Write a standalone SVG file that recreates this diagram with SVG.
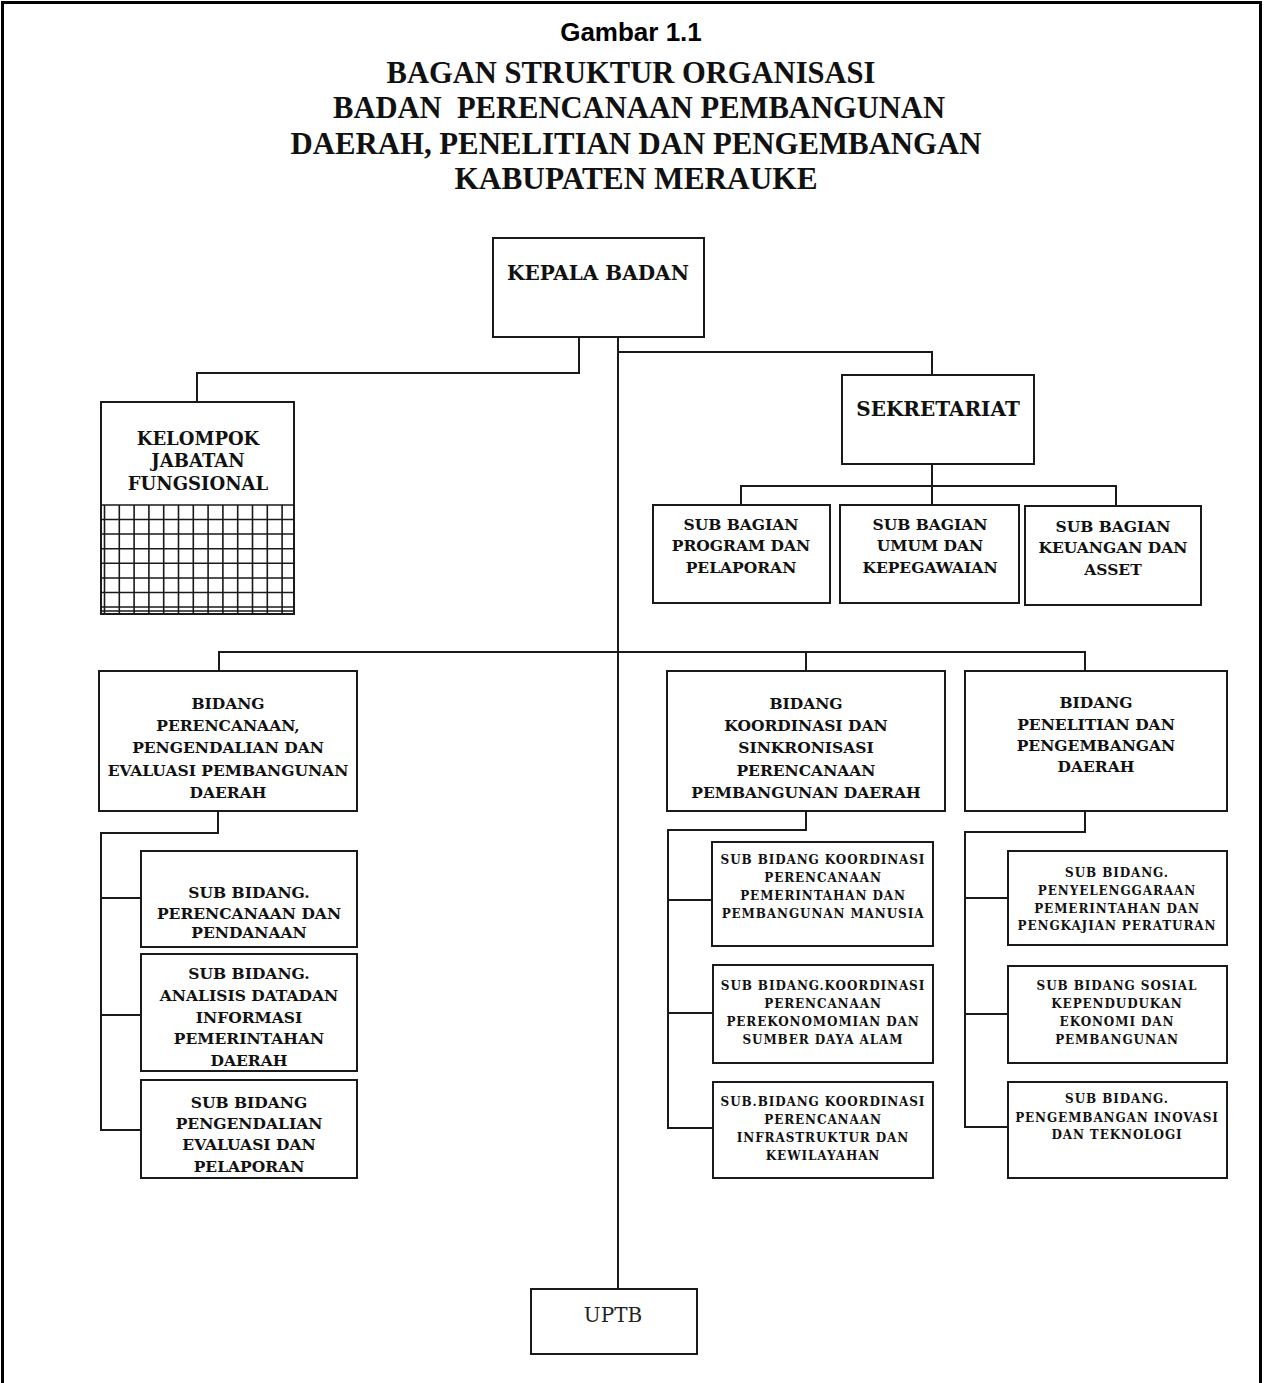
<svg xmlns="http://www.w3.org/2000/svg" width="1264" height="1383" viewBox="0 0 1264 1383">
<style>
.box{fill:#fff;stroke:#1a1a1a;stroke-width:2}
.ln{fill:none;stroke:#1a1a1a;stroke-width:2}
.grid{fill:none;stroke:#1a1a1a;stroke-width:1.6}
.t{font-family:"DejaVu Serif","Liberation Serif",serif;font-weight:bold;fill:#111;text-anchor:middle}
.hh{font-size:20px}
.h{font-size:18px}
.m{font-size:15.5px}
.s{font-size:12px;letter-spacing:0.9px}
.title{font-family:"Liberation Serif","Times New Roman",serif;font-weight:bold;font-size:32px;fill:#111;text-anchor:middle}
.g{font-family:"Liberation Sans",Arial,sans-serif;font-weight:bold;font-size:26px;fill:#000;text-anchor:middle}
</style>
<rect width="1264" height="1383" fill="#fff"/>
<path d="M2.5,1383 V2.5 H1260.5 V1383" fill="none" stroke="#000" stroke-width="3"/>

<g id="title">
<text class="g" x="631" y="41">Gambar 1.1</text>
<text class="title" x="631" y="83" textLength="489" lengthAdjust="spacingAndGlyphs">BAGAN STRUKTUR ORGANISASI</text>
<text class="title" x="639" y="118" textLength="612" lengthAdjust="spacingAndGlyphs" xml:space="preserve">BADAN  PERENCANAAN PEMBANGUNAN</text>
<text class="title" x="636" y="154" textLength="691" lengthAdjust="spacingAndGlyphs">DAERAH, PENELITIAN DAN PENGEMBANGAN</text>
<text class="title" x="636" y="189" textLength="363" lengthAdjust="spacingAndGlyphs">KABUPATEN MERAUKE</text>
</g>

<g id="connectors">
<path class="ln" d="M579,337 V373 H197 V402"/>
<path class="ln" d="M618,337 V1289"/>
<path class="ln" d="M618,352 H932 V375"/>
<path class="ln" d="M932,464 V505"/>
<path class="ln" d="M741,505 V486 H1116 V506"/>
<path class="ln" d="M219,671 V652 H1085 V671"/>
<path class="ln" d="M806,652 V671"/>
<path class="ln" d="M218,811 V833 H101 V1130 H141"/>
<path class="ln" d="M101,898 H141 M101,1015 H141"/>
<path class="ln" d="M806,811 V830 H668 V1128 H713"/>
<path class="ln" d="M668,900 H712 M668,1013 H713"/>
<path class="ln" d="M1085,811 V832 H965 V1127 H1008"/>
<path class="ln" d="M965,898 H1008 M965,1014 H1008"/>
</g>

<g id="kepala">
<rect class="box" x="493" y="238" width="211" height="99"/>
<text class="t hh" x="598" y="280">KEPALA BADAN</text>
</g>

<g id="kelompok">
<rect class="box" x="101" y="402" width="193" height="212"/>
<path class="grid" d="M104.5,505 V614 M119.3,505 V614 M134.1,505 V614 M148.9,505 V614 M163.7,505 V614 M178.5,505 V614 M193.3,505 V614 M208.1,505 V614 M222.9,505 V614 M237.7,505 V614 M252.5,505 V614 M267.3,505 V614 M282.1,505 V614 M101,505 H294 M101,519.5 H294 M101,534 H294 M101,548.7 H294 M101,563.3 H294 M101,578 H294 M101,592.5 H294 M101,607 H294 M101,611 H294"/>
<text class="t h" x="198" y="445">KELOMPOK</text>
<text class="t h" x="198" y="467">JABATAN</text>
<text class="t h" x="198" y="490">FUNGSIONAL</text>
</g>

<g id="sekretariat">
<rect class="box" x="842" y="375" width="192" height="89"/>
<text class="t hh" x="938" y="416">SEKRETARIAT</text>
</g>

<g id="sb-program">
<rect class="box" x="653" y="505" width="177" height="98"/>
<text class="t m" x="741" y="530">SUB BAGIAN</text>
<text class="t m" x="741" y="551">PROGRAM DAN</text>
<text class="t m" x="741" y="573">PELAPORAN</text>
</g>

<g id="sb-umum">
<rect class="box" x="840" y="505" width="179" height="98"/>
<text class="t m" x="930" y="530">SUB BAGIAN</text>
<text class="t m" x="930" y="551">UMUM DAN</text>
<text class="t m" x="930" y="573">KEPEGAWAIAN</text>
</g>

<g id="sb-keuangan">
<rect class="box" x="1025" y="506" width="176" height="99"/>
<text class="t m" x="1113" y="532">SUB BAGIAN</text>
<text class="t m" x="1113" y="553">KEUANGAN DAN</text>
<text class="t m" x="1113" y="575">ASSET</text>
</g>

<g id="bidang-perencanaan">
<rect class="box" x="99" y="671" width="258" height="140"/>
<text class="t m" x="228" y="709">BIDANG</text>
<text class="t m" x="228" y="731">PERENCANAAN,</text>
<text class="t m" x="228" y="753">PENGENDALIAN DAN</text>
<text class="t m" x="228" y="776">EVALUASI PEMBANGUNAN</text>
<text class="t m" x="228" y="798">DAERAH</text>
</g>

<g id="bidang-koordinasi">
<rect class="box" x="667" y="671" width="278" height="140"/>
<text class="t m" x="806" y="709">BIDANG</text>
<text class="t m" x="806" y="731">KOORDINASI DAN</text>
<text class="t m" x="806" y="753">SINKRONISASI</text>
<text class="t m" x="806" y="776">PERENCANAAN</text>
<text class="t m" x="806" y="798">PEMBANGUNAN DAERAH</text>
</g>

<g id="bidang-penelitian">
<rect class="box" x="965" y="671" width="262" height="140"/>
<text class="t m" x="1096" y="708">BIDANG</text>
<text class="t m" x="1096" y="730">PENELITIAN DAN</text>
<text class="t m" x="1096" y="751">PENGEMBANGAN</text>
<text class="t m" x="1096" y="772">DAERAH</text>
</g>

<g id="lsb-perencanaan">
<rect class="box" x="141" y="851" width="216" height="96"/>
<text class="t m" x="249" y="898">SUB BIDANG.</text>
<text class="t m" x="249" y="919">PERENCANAAN DAN</text>
<text class="t m" x="249" y="938">PENDANAAN</text>
</g>

<g id="lsb-analisis">
<rect class="box" x="141" y="954" width="216" height="117"/>
<text class="t m" x="249" y="979">SUB BIDANG.</text>
<text class="t m" x="249" y="1001">ANALISIS DATADAN</text>
<text class="t m" x="249" y="1023">INFORMASI</text>
<text class="t m" x="249" y="1044">PEMERINTAHAN</text>
<text class="t m" x="249" y="1066">DAERAH</text>
</g>

<g id="lsb-pengendalian">
<rect class="box" x="141" y="1080" width="216" height="98"/>
<text class="t m" x="249" y="1108">SUB BIDANG</text>
<text class="t m" x="249" y="1129">PENGENDALIAN</text>
<text class="t m" x="249" y="1150">EVALUASI DAN</text>
<text class="t m" x="249" y="1172">PELAPORAN</text>
</g>

<g id="msb-pemerintahan">
<rect class="box" x="712" y="842" width="221" height="104"/>
<text class="t s" x="823" y="864">SUB BIDANG KOORDINASI</text>
<text class="t s" x="823" y="882">PERENCANAAN</text>
<text class="t s" x="823" y="900">PEMERINTAHAN DAN</text>
<text class="t s" x="823" y="918">PEMBANGUNAN MANUSIA</text>
</g>

<g id="msb-ekonomi">
<rect class="box" x="713" y="965" width="220" height="98"/>
<text class="t s" x="823" y="990">SUB BIDANG.KOORDINASI</text>
<text class="t s" x="823" y="1008">PERENCANAAN</text>
<text class="t s" x="823" y="1026">PEREKONOMOMIAN DAN</text>
<text class="t s" x="823" y="1044">SUMBER DAYA ALAM</text>
</g>

<g id="msb-infrastruktur">
<rect class="box" x="713" y="1082" width="220" height="96"/>
<text class="t s" x="823" y="1106">SUB.BIDANG KOORDINASI</text>
<text class="t s" x="823" y="1124">PERENCANAAN</text>
<text class="t s" x="823" y="1142">INFRASTRUKTUR DAN</text>
<text class="t s" x="823" y="1160">KEWILAYAHAN</text>
</g>

<g id="rsb-penyelenggaraan">
<rect class="box" x="1008" y="851" width="219" height="94"/>
<text class="t s" x="1117" y="877">SUB BIDANG.</text>
<text class="t s" x="1117" y="895">PENYELENGGARAAN</text>
<text class="t s" x="1117" y="913">PEMERINTAHAN DAN</text>
<text class="t s" x="1117" y="930">PENGKAJIAN PERATURAN</text>
</g>

<g id="rsb-sosial">
<rect class="box" x="1008" y="966" width="219" height="97"/>
<text class="t s" x="1117" y="990">SUB BIDANG SOSIAL</text>
<text class="t s" x="1117" y="1008">KEPENDUDUKAN</text>
<text class="t s" x="1117" y="1026">EKONOMI DAN</text>
<text class="t s" x="1117" y="1044">PEMBANGUNAN</text>
</g>

<g id="rsb-inovasi">
<rect class="box" x="1008" y="1082" width="219" height="96"/>
<text class="t s" x="1117" y="1103">SUB BIDANG.</text>
<text class="t s" x="1117" y="1122">PENGEMBANGAN INOVASI</text>
<text class="t s" x="1117" y="1139">DAN TEKNOLOGI</text>
</g>

<g id="uptb">
<rect class="box" x="531" y="1289" width="166" height="65"/>
<text x="613" y="1322" style="font-family:'DejaVu Serif','Liberation Serif',serif;font-size:20px;fill:#222;text-anchor:middle">UPTB</text>
</g>
</svg>
